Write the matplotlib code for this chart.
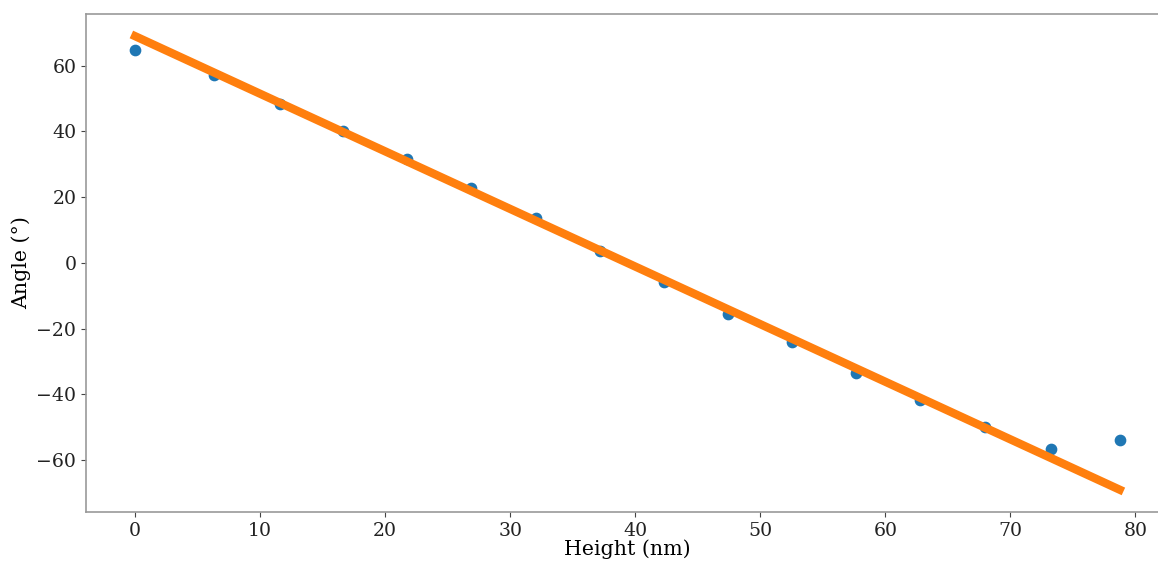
import matplotlib.pyplot as plt

# measured points
height_nm = [0, 6.31, 11.59, 16.63, 21.74, 26.86, 32.05, 37.17, 42.29, 47.4,
             52.52, 57.63, 62.75, 67.95, 73.22, 78.74]
angle_deg = [64.9, 57.3, 48.4, 40.2, 31.7, 22.8, 13.7, 3.65, -5.8, -15.5,
             -24.1, -33.5, -41.7, -49.9, -56.6, -53.9]

# linear fit end points
fit_x = [0, 78.74]
fit_y = [69.0, -69.0]

plt.rcParams['font.family'] = 'DejaVu Serif'

fig = plt.figure(figsize=(11.58, 5.61), dpi=100)
ax = fig.add_axes([0.0743, 0.0873, 0.935, 0.888])

ax.scatter(height_nm, angle_deg, s=55, color='#1f77b4', zorder=2)
ax.plot(fit_x, fit_y, color='#ff7f0e', lw=6, zorder=3)

ax.set_xlim(-3.93, 82.67)
ax.set_ylim(-75.8, 75.8)
ax.set_xlabel('Height (nm)', fontsize=14.8, labelpad=0)
ax.set_ylabel('Angle (°)', fontsize=14.8)
ax.tick_params(labelsize=13.6, color='#444444', labelcolor='#222222')
for sp in ax.spines.values():
    sp.set_color('#999999')
    sp.set_linewidth(1.2)

fig.savefig('out.png', dpi=100)
